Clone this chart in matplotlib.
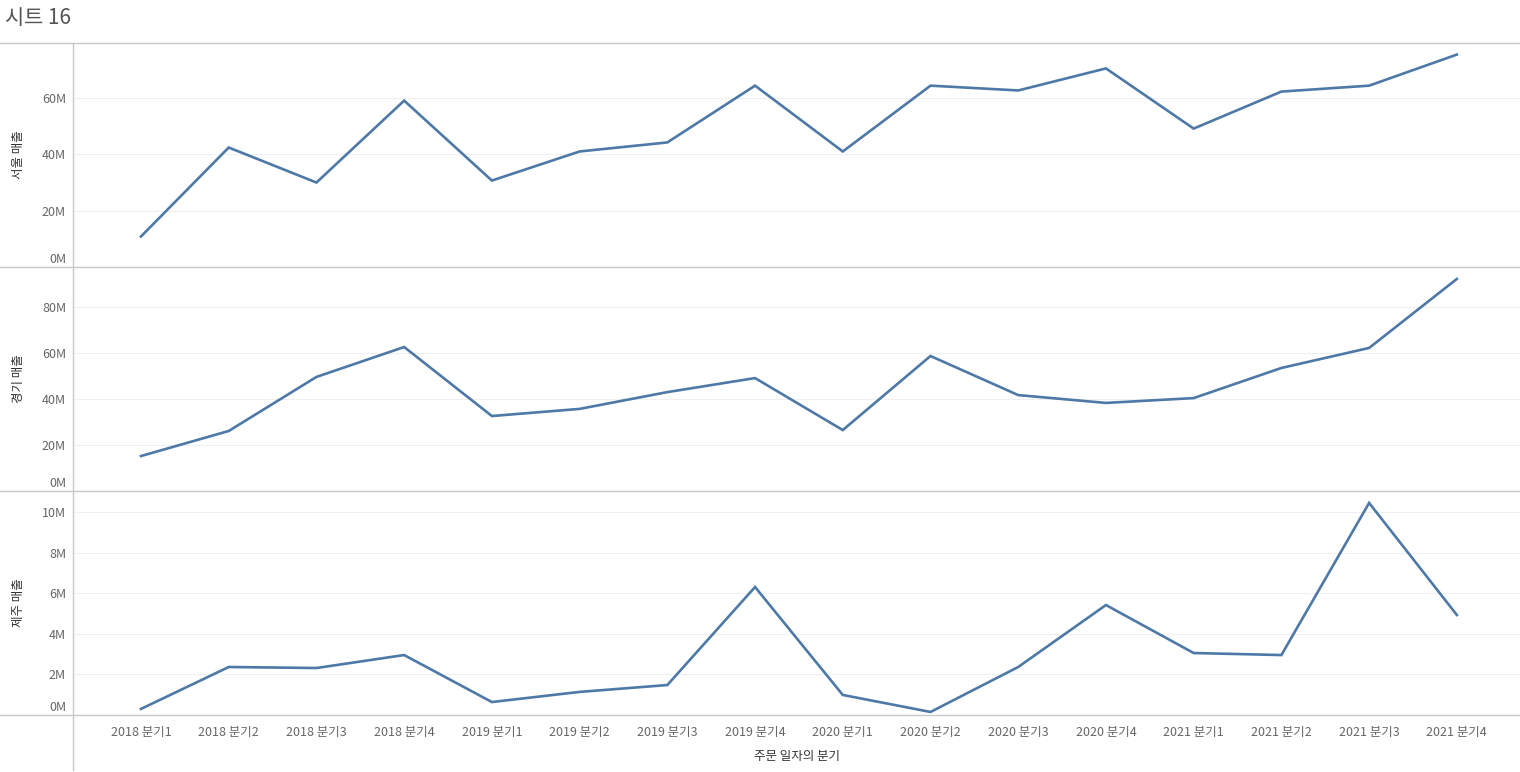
import matplotlib
matplotlib.use('agg')
import matplotlib.pyplot as plt
from matplotlib.lines import Line2D
from matplotlib.ticker import FuncFormatter
from matplotlib.transforms import ScaledTranslation

plt.rcParams['font.family'] = ['Noto Sans CJK KR', 'DejaVu Sans']

quarters = ['2018 분기1', '2018 분기2', '2018 분기3', '2018 분기4',
            '2019 분기1', '2019 분기2', '2019 분기3', '2019 분기4',
            '2020 분기1', '2020 분기2', '2020 분기3', '2020 분기4',
            '2021 분기1', '2021 분기2', '2021 분기3', '2021 분기4']

# 매출 (단위: 백만)
seoul = [10.8, 42.3, 29.9, 58.9, 30.6, 40.9, 44.1, 64.2,
         40.9, 64.2, 62.5, 70.3, 49.0, 62.1, 64.2, 75.2]
gyeonggi = [15.2, 26.1, 49.6, 62.6, 32.6, 35.7, 43.0, 49.1,
            26.5, 58.7, 41.7, 38.3, 40.4, 53.5, 62.2, 92.2]
jeju = [0.3, 2.37, 2.32, 2.96, 0.64, 1.14, 1.48, 6.32,
        0.99, 0.15, 2.37, 5.43, 3.06, 2.96, 10.47, 4.94]

panels = [('서울 매출', seoul, 79.3, [0, 20, 40, 60]),
          ('경기 매출', gyeonggi, 97.4, [0, 20, 40, 60, 80]),
          ('제주 매출', jeju, 11.06, [0, 2, 4, 6, 8, 10])]

W, H = 1520, 772
fig = plt.figure(figsize=(W / 100, H / 100), dpi=100)

left = 73
tops = [43, 267, 491]
ph = 224
x = list(range(len(quarters)))
grid_c = '#f0f0f0'
line_c = '#4e79a7'
txt_c = '#666666'

for i, (name, vals, ymax, ticks) in enumerate(panels):
    top = tops[i]
    ax = fig.add_axes([left / W, (H - top - ph) / H, (W - left) / W, ph / H])
    ax.plot(x, vals, color=line_c, lw=1.9, solid_joinstyle='miter')
    ax.set_xlim(-0.775, 15.72)
    ax.set_ylim(0, ymax)
    ax.set_yticks(ticks)
    ax.yaxis.set_major_formatter(FuncFormatter(lambda v, p: '%dM' % v))
    ax.grid(axis='y', color=grid_c, lw=0.8)
    ax.set_axisbelow(True)
    for s in ax.spines.values():
        s.set_visible(False)
    ax.tick_params(axis='y', length=0, pad=5, labelsize=9, labelcolor=txt_c)
    lab0 = ax.get_yticklabels()[0]
    lab0.set_transform(lab0.get_transform() + ScaledTranslation(0, 6.5 / 72, fig.dpi_scale_trans))
    ax.set_ylabel(name, fontsize=9, color='#333333', labelpad=0)
    ax.yaxis.set_label_coords(-(left - 25) / (W - left), 0.5)
    if i < 2:
        ax.set_xticks([])
    else:
        ax.set_xticks(x)
        ax.set_xticklabels(quarters)
        ax.tick_params(axis='x', length=0, pad=8, labelsize=9, labelcolor=txt_c)
        ax.set_xlabel('주문 일자의 분기', fontsize=9, color='#333333', labelpad=8)

sep_c = '#c8c8c8'
for yy in [43, 267, 491, 715]:
    fig.add_artist(Line2D([0, 1], [1 - yy / H, 1 - yy / H], color=sep_c, lw=1))
fig.add_artist(Line2D([left / W, left / W], [1 - 43 / H, 1 - 770 / H], color=sep_c, lw=1))

fig.text(5 / W, 1 - 18 / H, '시트 16', fontsize=15, color='#555555', va='center', ha='left')

fig.savefig('out.png', dpi=100)
